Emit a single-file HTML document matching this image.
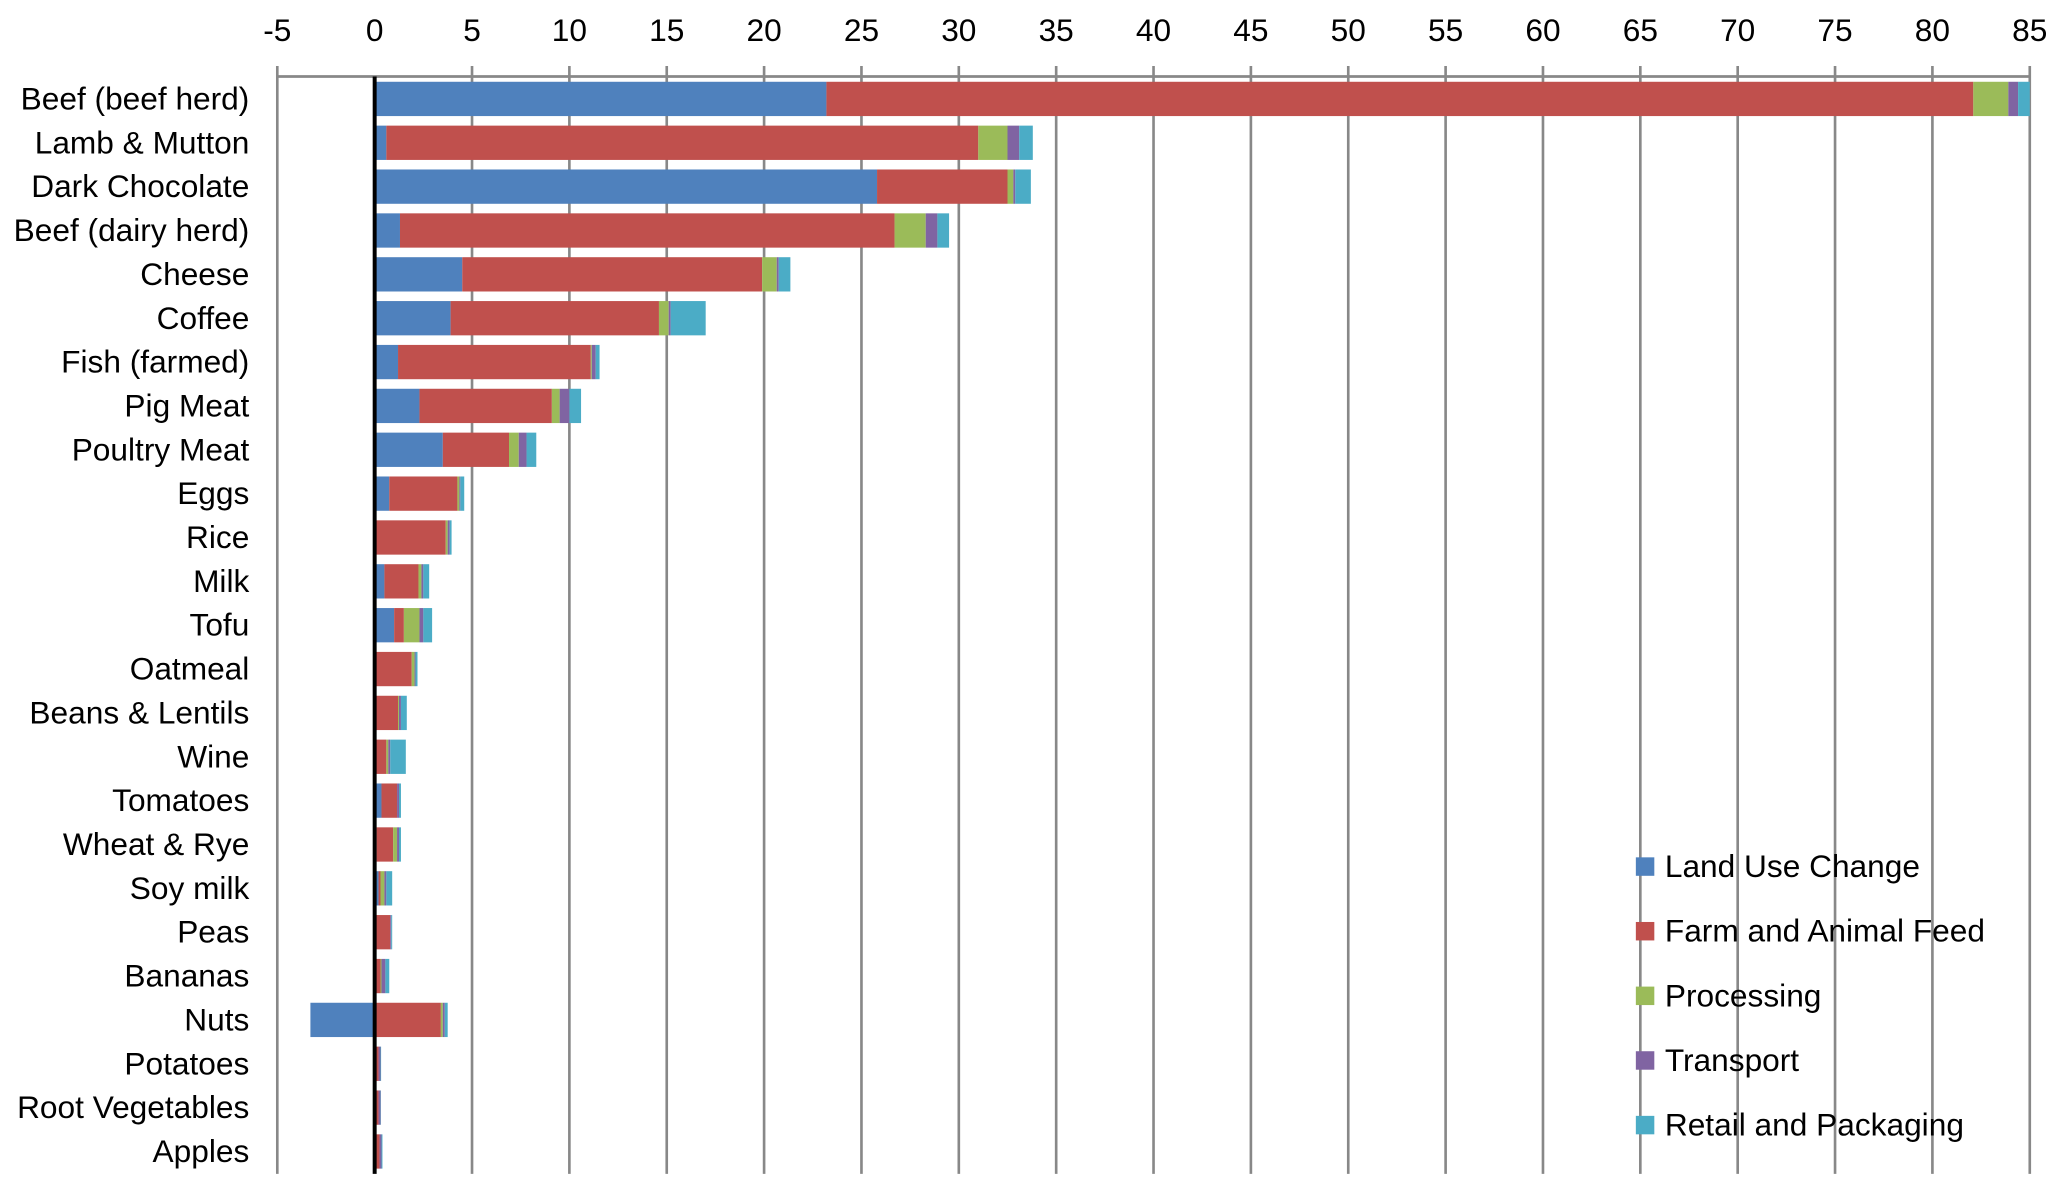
<!DOCTYPE html>
<html><head><meta charset="utf-8"><style>
html,body{margin:0;padding:0;background:#fff;}
svg{display:block;}
text{font-family:"Liberation Sans",sans-serif;fill:#000;}
</style></head><body>
<svg id="c" width="2058" height="1195" viewBox="0 0 1560 906" preserveAspectRatio="none" xmlns="http://www.w3.org/2000/svg"></svg>
<script>
(function(){
var svg=document.getElementById('c');
var x0=284,u=14.76;
var cols=['#4F81BD','#C0504D','#9BBB59','#8064A2','#4BACC6'];
var data=[
['Beef (beef herd)',23.2,58.9,1.8,0.5,0.6],
['Lamb & Mutton',0.6,30.4,1.5,0.6,0.7],
['Dark Chocolate',25.8,6.7,0.3,0.1,0.8],
['Beef (dairy herd)',1.3,25.4,1.6,0.6,0.6],
['Cheese',4.5,15.4,0.75,0.1,0.6],
['Coffee',3.9,10.7,0.5,0.1,1.8],
['Fish (farmed)',1.2,9.9,0.05,0.2,0.2],
['Pig Meat',2.3,6.8,0.4,0.5,0.6],
['Poultry Meat',3.5,3.4,0.5,0.4,0.5],
['Eggs',0.75,3.5,0.1,0.05,0.2],
['Rice',0.05,3.6,0.1,0.1,0.1],
['Milk',0.5,1.75,0.15,0.1,0.3],
['Tofu',1.0,0.5,0.8,0.2,0.45],
['Oatmeal',0.0,1.9,0.15,0.05,0.1],
['Beans & Lentils',0.0,1.2,0.05,0.1,0.3],
['Wine',0.05,0.55,0.1,0.1,0.8],
['Tomatoes',0.35,0.8,0.0,0.1,0.1],
['Wheat & Rye',0.1,0.85,0.2,0.1,0.1],
['Soy milk',0.2,0.1,0.2,0.1,0.3],
['Peas',0.0,0.8,0.0,0.05,0.05],
['Bananas',0.0,0.3,0.05,0.2,0.2],
['Nuts',-3.3,3.4,0.1,0.1,0.15],
['Potatoes',0.0,0.2,0.0,0.1,0.03],
['Root Vegetables',0.0,0.2,0.0,0.1,0.02],
['Apples',0.0,0.25,0.0,0.1,0.05]
];
var h='';
for(var v=-5;v<=85;v+=5){
 var x=x0+v*u;
 if(v!==0) h+='<line x1="'+x+'" y1="50" x2="'+x+'" y2="890" stroke="#888" stroke-width="2"/>';
 h+='<text x="'+x+'" y="31" font-size="24" text-anchor="middle">'+v+'</text>';
}
h+='<line x1="'+(x0-5*u)+'" y1="58" x2="'+(x0+85*u)+'" y2="58" stroke="#888" stroke-width="2"/>';
var pitch=(873-75)/24;
for(var i=0;i<data.length;i++){
 var d=data[i];var cy=75+i*pitch;
 var ty=cy-13;
 var pos=0;
 for(var k=1;k<=5;k++){
  var val=d[k];
  if(val<0){
   h+='<rect x="'+(x0+val*u)+'" y="'+ty+'" width="'+(-val*u)+'" height="26" fill="'+cols[k-1]+'"/>';
  }else if(val>0){
   h+='<rect x="'+(x0+pos*u)+'" y="'+ty+'" width="'+(val*u)+'" height="26" fill="'+cols[k-1]+'"/>';
   pos+=val;
  }
 }
 h+='<text x="189" y="'+(cy+8)+'" font-size="24" textLength="" text-anchor="end">'+d[0].replace('&','&amp;')+'</text>';
}
h+='<line x1="'+x0+'" y1="58" x2="'+x0+'" y2="890" stroke="#000" stroke-width="3"/>';
var leg=['Land Use Change','Farm and Animal Feed','Processing','Transport','Retail and Packaging'];
for(var j=0;j<5;j++){
 var y=657+j*49;
 h+='<rect x="1240" y="'+(y-7)+'" width="14" height="14" fill="'+cols[j]+'"/>';
 h+='<text x="1262" y="'+(y+8)+'" font-size="24">'+leg[j]+'</text>';
}
svg.innerHTML=h.replace(/ textLength=""/g,'');
})();
</script>
</body></html>
